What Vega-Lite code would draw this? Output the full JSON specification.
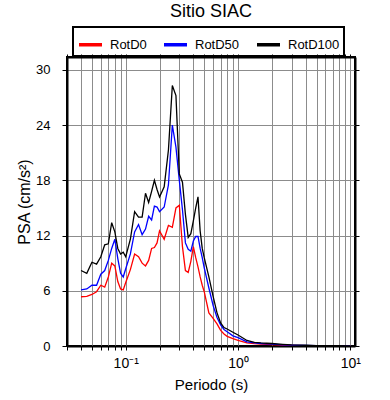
{
  "$schema": "https://vega.github.io/schema/vega-lite/v6.json",
  "width": 288,
  "height": 289,
  "autosize": "none",
  "padding": {"left": 67, "top": 57, "right": 35, "bottom": 54},
  "config": {
    "font": "Liberation Sans",
    "view": {"stroke": "black", "strokeWidth": 2}
  },
  "title": {"text": "Sitio SIAC", "fontSize": 18, "fontWeight": "normal", "anchor": "middle", "offset": 5, "color": "black"},
  "datasets": {
    "psa": [
      {"T":0.04,"comp":"RotD0","psa":5.35},{"T":0.045,"comp":"RotD0","psa":5.4},{"T":0.05,"comp":"RotD0","psa":5.6},{"T":0.055,"comp":"RotD0","psa":5.9},{"T":0.06,"comp":"RotD0","psa":6.6},{"T":0.065,"comp":"RotD0","psa":6.4},{"T":0.07,"comp":"RotD0","psa":7.5},{"T":0.075,"comp":"RotD0","psa":9.0},{"T":0.08,"comp":"RotD0","psa":8.7},{"T":0.085,"comp":"RotD0","psa":7.0},{"T":0.09,"comp":"RotD0","psa":6.2},{"T":0.095,"comp":"RotD0","psa":6.1},{"T":0.1,"comp":"RotD0","psa":6.9},{"T":0.11,"comp":"RotD0","psa":8.3},{"T":0.12,"comp":"RotD0","psa":10.0},{"T":0.13,"comp":"RotD0","psa":9.7},{"T":0.14,"comp":"RotD0","psa":9.0},{"T":0.15,"comp":"RotD0","psa":8.7},{"T":0.16,"comp":"RotD0","psa":9.3},{"T":0.17,"comp":"RotD0","psa":10.6},{"T":0.18,"comp":"RotD0","psa":10.7},{"T":0.19,"comp":"RotD0","psa":11.2},{"T":0.2,"comp":"RotD0","psa":12.5},{"T":0.22,"comp":"RotD0","psa":11.6},{"T":0.24,"comp":"RotD0","psa":13.1},{"T":0.26,"comp":"RotD0","psa":12.9},{"T":0.28,"comp":"RotD0","psa":15.0},{"T":0.3,"comp":"RotD0","psa":15.3},{"T":0.32,"comp":"RotD0","psa":10.8},{"T":0.34,"comp":"RotD0","psa":8.2},{"T":0.36,"comp":"RotD0","psa":8.0},{"T":0.38,"comp":"RotD0","psa":9.2},{"T":0.4,"comp":"RotD0","psa":10.8},{"T":0.42,"comp":"RotD0","psa":9.6},{"T":0.44,"comp":"RotD0","psa":8.6},{"T":0.46,"comp":"RotD0","psa":7.5},{"T":0.48,"comp":"RotD0","psa":6.6},{"T":0.5,"comp":"RotD0","psa":5.9},{"T":0.55,"comp":"RotD0","psa":3.6},{"T":0.6,"comp":"RotD0","psa":3.0},{"T":0.65,"comp":"RotD0","psa":2.4},{"T":0.7,"comp":"RotD0","psa":1.7},{"T":0.75,"comp":"RotD0","psa":1.3},{"T":0.8,"comp":"RotD0","psa":1.05},{"T":0.9,"comp":"RotD0","psa":0.8},{"T":1.0,"comp":"RotD0","psa":0.6},{"T":1.2,"comp":"RotD0","psa":0.35},{"T":1.4,"comp":"RotD0","psa":0.25},{"T":1.6,"comp":"RotD0","psa":0.2},{"T":1.8,"comp":"RotD0","psa":0.17},{"T":2.0,"comp":"RotD0","psa":0.15},{"T":2.5,"comp":"RotD0","psa":0.1},{"T":3,"comp":"RotD0","psa":0.07},{"T":4,"comp":"RotD0","psa":0.05},{"T":5,"comp":"RotD0","psa":0.03},{"T":6,"comp":"RotD0","psa":0.025},{"T":7,"comp":"RotD0","psa":0.02},{"T":8,"comp":"RotD0","psa":0.015},{"T":10,"comp":"RotD0","psa":0.01},
      {"T":0.04,"comp":"RotD50","psa":6.1},{"T":0.045,"comp":"RotD50","psa":6.2},{"T":0.05,"comp":"RotD50","psa":6.6},{"T":0.055,"comp":"RotD50","psa":6.6},{"T":0.06,"comp":"RotD50","psa":7.8},{"T":0.065,"comp":"RotD50","psa":8.2},{"T":0.07,"comp":"RotD50","psa":9.3},{"T":0.075,"comp":"RotD50","psa":10.6},{"T":0.08,"comp":"RotD50","psa":11.6},{"T":0.085,"comp":"RotD50","psa":9.5},{"T":0.09,"comp":"RotD50","psa":7.9},{"T":0.095,"comp":"RotD50","psa":7.5},{"T":0.1,"comp":"RotD50","psa":8.4},{"T":0.11,"comp":"RotD50","psa":10.0},{"T":0.12,"comp":"RotD50","psa":12.4},{"T":0.13,"comp":"RotD50","psa":13.2},{"T":0.14,"comp":"RotD50","psa":12.1},{"T":0.15,"comp":"RotD50","psa":12.7},{"T":0.16,"comp":"RotD50","psa":14.1},{"T":0.17,"comp":"RotD50","psa":13.7},{"T":0.18,"comp":"RotD50","psa":15.2},{"T":0.19,"comp":"RotD50","psa":15.1},{"T":0.2,"comp":"RotD50","psa":14.6},{"T":0.22,"comp":"RotD50","psa":15.1},{"T":0.24,"comp":"RotD50","psa":17.5},{"T":0.26,"comp":"RotD50","psa":24.0},{"T":0.28,"comp":"RotD50","psa":21.6},{"T":0.3,"comp":"RotD50","psa":18.0},{"T":0.32,"comp":"RotD50","psa":14.8},{"T":0.34,"comp":"RotD50","psa":11.2},{"T":0.36,"comp":"RotD50","psa":10.5},{"T":0.38,"comp":"RotD50","psa":10.3},{"T":0.4,"comp":"RotD50","psa":11.4},{"T":0.42,"comp":"RotD50","psa":11.9},{"T":0.44,"comp":"RotD50","psa":11.9},{"T":0.46,"comp":"RotD50","psa":10.6},{"T":0.48,"comp":"RotD50","psa":9.6},{"T":0.5,"comp":"RotD50","psa":8.5},{"T":0.55,"comp":"RotD50","psa":6.3},{"T":0.6,"comp":"RotD50","psa":4.4},{"T":0.65,"comp":"RotD50","psa":3.1},{"T":0.7,"comp":"RotD50","psa":2.3},{"T":0.75,"comp":"RotD50","psa":1.8},{"T":0.8,"comp":"RotD50","psa":1.55},{"T":0.9,"comp":"RotD50","psa":1.1},{"T":1.0,"comp":"RotD50","psa":0.9},{"T":1.2,"comp":"RotD50","psa":0.45},{"T":1.4,"comp":"RotD50","psa":0.33},{"T":1.6,"comp":"RotD50","psa":0.27},{"T":1.8,"comp":"RotD50","psa":0.23},{"T":2.0,"comp":"RotD50","psa":0.2},{"T":2.5,"comp":"RotD50","psa":0.13},{"T":3,"comp":"RotD50","psa":0.09},{"T":4,"comp":"RotD50","psa":0.06},{"T":5,"comp":"RotD50","psa":0.04},{"T":6,"comp":"RotD50","psa":0.03},{"T":7,"comp":"RotD50","psa":0.025},{"T":8,"comp":"RotD50","psa":0.02},{"T":10,"comp":"RotD50","psa":0.015},
      {"T":0.04,"comp":"RotD100","psa":8.2},{"T":0.045,"comp":"RotD100","psa":7.9},{"T":0.05,"comp":"RotD100","psa":9.1},{"T":0.055,"comp":"RotD100","psa":8.9},{"T":0.06,"comp":"RotD100","psa":9.7},{"T":0.065,"comp":"RotD100","psa":11.0},{"T":0.07,"comp":"RotD100","psa":11.1},{"T":0.075,"comp":"RotD100","psa":13.4},{"T":0.08,"comp":"RotD100","psa":12.4},{"T":0.085,"comp":"RotD100","psa":10.6},{"T":0.09,"comp":"RotD100","psa":10.0},{"T":0.095,"comp":"RotD100","psa":10.2},{"T":0.1,"comp":"RotD100","psa":9.7},{"T":0.11,"comp":"RotD100","psa":11.6},{"T":0.12,"comp":"RotD100","psa":14.6},{"T":0.13,"comp":"RotD100","psa":14.0},{"T":0.14,"comp":"RotD100","psa":14.0},{"T":0.15,"comp":"RotD100","psa":16.6},{"T":0.16,"comp":"RotD100","psa":15.6},{"T":0.17,"comp":"RotD100","psa":16.8},{"T":0.18,"comp":"RotD100","psa":18.0},{"T":0.19,"comp":"RotD100","psa":17.0},{"T":0.2,"comp":"RotD100","psa":16.2},{"T":0.22,"comp":"RotD100","psa":17.3},{"T":0.24,"comp":"RotD100","psa":21.3},{"T":0.26,"comp":"RotD100","psa":28.3},{"T":0.28,"comp":"RotD100","psa":27.2},{"T":0.3,"comp":"RotD100","psa":18.7},{"T":0.32,"comp":"RotD100","psa":17.8},{"T":0.34,"comp":"RotD100","psa":14.3},{"T":0.36,"comp":"RotD100","psa":11.8},{"T":0.38,"comp":"RotD100","psa":12.2},{"T":0.4,"comp":"RotD100","psa":13.6},{"T":0.42,"comp":"RotD100","psa":15.0},{"T":0.44,"comp":"RotD100","psa":16.2},{"T":0.46,"comp":"RotD100","psa":12.5},{"T":0.48,"comp":"RotD100","psa":10.6},{"T":0.5,"comp":"RotD100","psa":9.6},{"T":0.55,"comp":"RotD100","psa":7.5},{"T":0.6,"comp":"RotD100","psa":5.4},{"T":0.65,"comp":"RotD100","psa":3.6},{"T":0.7,"comp":"RotD100","psa":2.5},{"T":0.75,"comp":"RotD100","psa":2.0},{"T":0.8,"comp":"RotD100","psa":1.85},{"T":0.9,"comp":"RotD100","psa":1.5},{"T":1.0,"comp":"RotD100","psa":1.2},{"T":1.2,"comp":"RotD100","psa":0.6},{"T":1.4,"comp":"RotD100","psa":0.4},{"T":1.6,"comp":"RotD100","psa":0.33},{"T":1.8,"comp":"RotD100","psa":0.3},{"T":2.0,"comp":"RotD100","psa":0.27},{"T":2.5,"comp":"RotD100","psa":0.18},{"T":3,"comp":"RotD100","psa":0.12},{"T":4,"comp":"RotD100","psa":0.08},{"T":5,"comp":"RotD100","psa":0.05},{"T":6,"comp":"RotD100","psa":0.04},{"T":7,"comp":"RotD100","psa":0.03},{"T":8,"comp":"RotD100","psa":0.03},{"T":10,"comp":"RotD100","psa":0.02}
    ]
  },
  "data": {"name": "psa"},
  "layer": [
    {
      "mark": {"type": "line", "strokeWidth": 1.3, "clip": true},
      "encoding": {
        "x": {
          "field": "T", "type": "quantitative",
          "scale": {"type": "log", "domain": [0.03, 11], "nice": false},
          "axis": {
            "orient": "bottom",
            "title": "Periodo (s)",
            "values": [0.03,0.04,0.05,0.06,0.07,0.08,0.09,0.1,0.2,0.3,0.4,0.5,0.6,0.7,0.8,0.9,1,2,3,4,5,6,7,8,9,10],
            "labelExpr": "datum.value == 0.1 ? '10⁻¹' : datum.value == 1 ? '10⁰' : datum.value == 10 ? '10¹' : ''",
            "labelOverlap": false,
            "labelFlush": false,
            "labelFontSize": 14,
            "labelColor": "black",
            "labelPadding": 6,
            "tickSize": 4,
            "tickColor": "black",
            "domain": true,
            "domainColor": "black",
            "domainWidth": 2,
            "grid": true,
            "gridColor": "#8c8c8c",
            "gridOpacity": 1,
            "titleFontSize": 15,
            "titleFontWeight": "normal",
            "titleColor": "black",
            "titlePadding": 7
          }
        },
        "y": {
          "field": "psa", "type": "quantitative",
          "scale": {"domain": [0, 31.4], "nice": false},
          "axis": {
            "orient": "left",
            "title": "PSA (cm/s²)",
            "values": [0, 6, 12, 18, 24, 30],
            "labelFontSize": 13,
            "labelColor": "black",
            "labelPadding": 12,
            "tickSize": 5,
            "tickColor": "black",
            "domain": true,
            "domainColor": "black",
            "domainWidth": 2,
            "grid": true,
            "gridColor": "#8c8c8c",
            "gridOpacity": 1,
            "titleFontSize": 16,
            "titleFontWeight": "normal",
            "titleColor": "black",
            "titlePadding": 3
          }
        },
        "color": {
          "field": "comp", "type": "nominal",
          "scale": {"domain": ["RotD0", "RotD50", "RotD100"], "range": ["#ff0000", "#0000ff", "#000000"]},
          "legend": {
            "orient": "none",
            "legendX": 6,
            "legendY": -30,
            "direction": "horizontal",
            "title": null,
            "symbolType": "stroke",
            "symbolStrokeWidth": 3.5,
            "symbolSize": 529,
            "labelFontSize": 13,
            "labelColor": "black",
            "labelOffset": 6,
            "columnPadding": 10,
            "padding": 4,
            "strokeColor": "black",
            "encode": {"legend": {"update": {"strokeWidth": {"value": 2}}}}
          }
        }
      }
    },
    {
      "mark": {"type": "line", "opacity": 0},
      "encoding": {
        "x": {
          "field": "T", "type": "quantitative",
          "axis": {
            "orient": "top", "title": null, "labels": false, "grid": false,
            "domain": true, "domainColor": "black", "domainWidth": 2,
            "values": [0.03,0.04,0.05,0.06,0.07,0.08,0.09,0.1,0.2,0.3,0.4,0.5,0.6,0.7,0.8,0.9,1,2,3,4,5,6,7,8,9,10],
            "tickSize": 3, "tickColor": "black"
          }
        },
        "y": {
          "field": "psa", "type": "quantitative",
          "axis": {
            "orient": "right", "title": null, "labels": false, "grid": false,
            "domain": true, "domainColor": "black", "domainWidth": 2,
            "values": [0, 6, 12, 18, 24, 30],
            "tickSize": 4, "tickColor": "black"
          }
        },
        "detail": {"field": "comp"}
      }
    }
  ],
  "resolve": {"axis": {"x": "independent", "y": "independent"}}
}
